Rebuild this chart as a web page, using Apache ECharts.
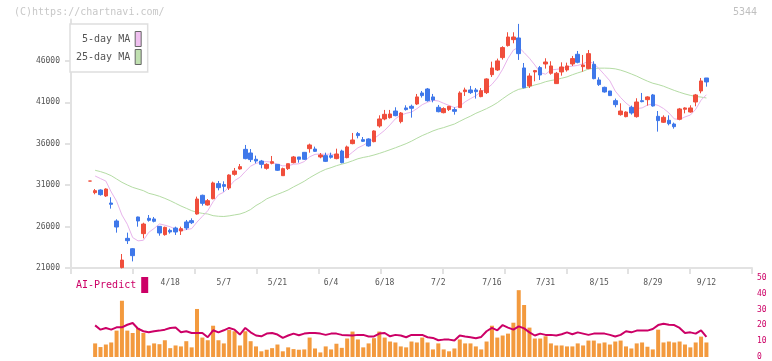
<!DOCTYPE html>
<html><head><meta charset="utf-8">
<script src="https://cdn.jsdelivr.net/npm/echarts@6/dist/echarts.min.js"></script>
<style>html,body{margin:0;padding:0;background:#fff}#c{width:772px;height:361px}</style>
</head><body><div id="c"></div>
<script>
// trading days (2025)
const dates = ['3/28','3/31','4/1','4/2','4/3','4/4','4/7','4/8','4/9','4/10','4/11','4/14','4/15','4/16','4/17','4/18','4/21','4/22','4/23','4/24','4/25','4/28','4/30','5/1','5/2','5/7','5/8','5/9','5/12','5/13','5/14','5/15','5/16','5/19','5/20','5/21','5/22','5/23','5/26','5/27','5/28','5/29','5/30','6/2','6/3','6/4','6/5','6/6','6/9','6/10','6/11','6/12','6/13','6/16','6/17','6/18','6/19','6/20','6/23','6/24','6/25','6/26','6/27','6/30','7/1','7/2','7/3','7/4','7/7','7/8','7/9','7/10','7/11','7/14','7/15','7/16','7/17','7/18','7/22','7/23','7/24','7/25','7/28','7/29','7/30','7/31','8/1','8/4','8/5','8/6','8/7','8/8','8/12','8/13','8/14','8/15','8/18','8/19','8/20','8/21','8/22','8/25','8/26','8/27','8/28','8/29','9/1','9/2','9/3','9/4','9/5','9/8','9/9','9/10','9/11','9/12'];
const dateTickLabels = ['4/18','5/7','5/21','6/4','6/18','7/2','7/16','7/31','8/15','8/29','9/12'];
// [open, high, low, close]
const ohlc = [
[31500,31500,31500,31500],[30100,30540,29900,30340],[30420,30500,29740,29860],[29700,30620,29580,30540],[28850,29540,28170,28690],
[26680,26880,25270,25950],[21050,22690,20950,21960],[24580,25270,23900,24300],[23330,23410,21800,22490],[27160,27200,25990,26680],
[25150,26470,24580,26310],[27000,27400,26600,26760],[26920,27160,26510,26640],[26030,26070,24900,25230],[25030,25990,24900,25910],
[25550,25750,25150,25350],[25830,25990,24990,25350],[25470,25990,24990,25750],[26560,26800,25590,25830],[26720,27000,26310,26470],
[27520,29620,27440,29330],[29780,29860,28530,28810],[28610,29330,28530,29130],[29370,31430,29290,31270],[31190,31510,30380,30700],
[31070,31470,30220,30860],[30660,32310,30420,32230],[32310,33080,32150,32720],[32960,33560,32880,33240],[35330,35860,34130,34210],
[34890,35370,33800,34090],[34130,34570,33640,33920],[33920,34050,33040,33520],[33040,33640,32880,33520],[33640,34530,33520,33840],
[33520,33560,32720,32800],[32150,33120,32110,33000],[33000,33600,32840,33600],[33720,34530,33640,34410],[34410,34410,33720,34130],
[34970,35010,34050,34130],[35410,36020,34930,35860],[35370,35660,35010,35090],[34410,34890,34250,34650],[34570,34930,33800,33880],
[34570,34930,34210,34370],[34210,35410,34130,34770],[35130,35290,33640,33720],[34330,35780,34250,35620],[36020,37310,35940,36460],
[37230,37430,36660,36990],[36500,36820,36220,36300],[36580,36660,35660,35740],[36260,37630,36180,37550],[38150,39440,37950,39000],
[39000,40090,38840,39560],[39160,40090,39040,39600],[39960,40410,39320,39400],[38680,39840,38470,39720],[40330,40650,40010,40130],
[40530,40730,39160,40290],[40810,42020,40690,41660],[42140,42380,41580,41820],[42620,42740,41090,41210],[41660,42020,41010,41290],
[40410,40690,39800,39880],[39760,40410,39680,40250],[40130,40570,39960,40530],[40130,40410,39520,39920],[40370,42340,40330,42140],
[42300,42780,41780,42500],[42500,42990,42020,42180],[42500,42740,41460,42300],[41700,42740,41620,42420],[42180,43910,42020,43830],
[44350,45920,44070,45160],[44920,46290,44800,46010],[46410,47780,46170,47620],[47860,49470,47740,48900],[48580,49470,48140,48900],
[48780,50480,46130,46890],[45160,45760,42700,42780],[42990,44520,42740,44190],[44680,44920,43550,44840],[45200,45400,43710,44310],
[45640,46330,45080,45880],[44520,45970,44350,45400],[43270,44680,43230,44520],[44680,45840,44230,45280],[44920,45800,44720,45400],
[45640,46610,45400,46290],[46810,47210,45720,45840],[45320,46730,44720,45520],[45080,47330,45000,46890],[45600,45970,43790,43870],
[43710,44030,42990,43150],[42820,42900,42180,42260],[42380,42380,41780,41820],[41210,41460,40410,40730],[39520,40890,39400,39960],
[39280,39920,39200,39840],[40410,40610,39520,39720],[39280,41500,39160,41050],[41210,42140,41010,41090],[41330,41740,40610,41660],
[41900,42020,40490,40570],[39320,39960,37470,38800],[38600,39440,38520,39200],[38840,39440,38230,38430],[38390,38560,37830,38070],
[38960,40330,38840,40210],[40170,40410,39680,40330],[39840,40650,39760,40330],[41050,42020,40530,41900],[42380,43950,42100,43590],
[43950,43950,42900,43470]
];
const volume = ['-',
8.6,6.3,7.9,9.2,16.7,35.6,16.7,15.2,18.4,15.2,
7.3,8.6,8.1,10.6,5.6,7.3,6.7,10,6.1,30.4,
12.3,10.6,19.8,10.6,8.6,17.1,16.3,7.3,16.3,10,
6.7,3.6,4.6,5.6,7.9,3.6,6.1,5,4.6,4.8,
12.3,5.4,2.9,6.7,4.8,8.4,5.8,11.7,
16.1,11.1,6.1,8.6,11.9,16.1,12.3,9.8,9.2,6.7,
6.1,9.8,9.2,12.3,9.2,4.8,8.6,4.8,3.6,5.4,
11.1,8.6,8.6,6.7,4.8,9.8,19.8,12.3,13.6,14.8,
21.7,42.3,32.9,18.6,11.7,11.7,13.1,8.6,7.3,7.3,
6.7,6.7,8.6,7.3,10.4,10.4,8.6,9.2,7.9,9.8,
10.4,6.7,5.4,8.6,9.2,6.5,4.8,17.3,9.2,9.8,
9.2,9.8,7.9,6.1,9.2,12.9,9.2];
const aiPredict = ['-',
20,17.3,18.4,17.3,18.8,18.8,20.4,21.5,17.9,16.3,
15.6,16.3,16.7,17.3,18.4,18.6,15.6,16.3,15.2,15.2,
15.2,12.5,16.9,15.6,16.9,18.4,17.3,14.2,18.4,15.6,
13.6,13.1,14.8,15.2,14.2,12.1,13.6,14.8,13.8,14.8,
15.2,15.2,14.8,14,14.8,14.8,14,13.8,
13.6,14,14,13,13,14.8,15.2,13.1,14,13.6,
12.5,14,14,14,12.5,12.1,10.6,11,11,10.4,
13.6,13,12.5,11.9,12.7,16.3,18.4,16.9,20.2,18.6,
17.3,19.4,18.1,15.6,13.6,14.8,14,14,13.6,14.4,
15.6,14.4,15.6,14.8,14,14.8,14.8,14.8,14,13,
14,16.3,15.6,16.7,16.7,16.7,17.7,20.2,21,20.4,
20.2,18.4,15.2,15.6,14.8,16.9,12.7];
// MA values before a full window exists
const ma5Early = ['-', 32110, 31800, 31500];
const ma25Early = ['-',32800,32640,32430,32150,31750,31350,31030,30740,30540,30340,30020,29860,29660,29410,29130,28810,28490,28210,27920,27720,27600,27520,27320];

const PAD_L = 3, PAD_R = 8;
const pad = (arr, empty) => Array(PAD_L).fill(empty).concat(arr, Array(PAD_R).fill(empty));
const cats = Array(PAD_L).fill(0).map((_, i) => ' '.repeat(i + 1)).concat(dates, Array(PAD_R).fill(0).map((_, i) => ' '.repeat(PAD_L + i + 1)));
const closes = ohlc.map(r => r[3]);
function ma(n, early) {
  return closes.map((c, i) => {
    if (i < n - 1) return early[i] === undefined ? '-' : early[i];
    let s = 0; for (let k = i - n + 1; k <= i; k++) s += closes[k];
    return Math.round(s / n);
  });
}
const ma5 = ma(5, ma5Early), ma25 = ma(25, ma25Early);
const candleData = pad(ohlc.map(r => [r[0], r[3], r[2], r[1]]), ['-', '-', '-', '-']);
const tickSet = new Set(dateTickLabels);

const RED = '#f04e3c', BLUE = '#3f78ea';
const MONO = 'DejaVu Sans Mono';
const chart = echarts.init(document.getElementById('c'), null, {renderer: 'canvas'});
chart.setOption({
  animation: false,
  backgroundColor: '#fff',
  title: [
    {text: '(C)https://chartnavi.com/', left: 14, top: 7, padding: 0, textStyle: {color: '#c8c8c8', fontSize: 10, fontWeight: 'normal', fontFamily: MONO}},
    {text: '5344', right: 15, top: 7, padding: 0, textStyle: {color: '#c0c0c0', fontSize: 10, fontWeight: 'normal', fontFamily: MONO}}
  ],
  legend: [
    {left: 70, top: 24, orient: 'vertical', align: 'right', selectedMode: false,
     itemWidth: 6, itemHeight: 15, itemGap: 2, padding: [7, 6, 7, 6],
     borderColor: '#dedede', borderWidth: 1.5, backgroundColor: '#fff',
     textStyle: {fontFamily: MONO, fontSize: 10, color: '#555'},
     data: [
       {name: '5-day MA', icon: 'rect', itemStyle: {color: '#f0c0f0', borderColor: '#666', borderWidth: 1}},
       {name: '25-day MA', icon: 'rect', itemStyle: {color: '#c0e0b0', borderColor: '#666', borderWidth: 1}}
     ]},
    {left: 76, top: 277, orient: 'horizontal', align: 'right', selectedMode: false,
     itemWidth: 7, itemHeight: 16, padding: 0,
     textStyle: {fontFamily: MONO, fontSize: 10, color: '#cc0066'},
     data: [{name: 'AI-Predict', icon: 'rect', itemStyle: {color: '#cc0066', borderWidth: 0}}]}
  ],
  grid: [
    {left: 71, right: 20, top: 19.6, bottom: 93},
    {left: 71, right: 20, top: 278, bottom: 3}
  ],
  xAxis: [
    {type: 'category', gridIndex: 0, data: cats, boundaryGap: true,
     axisLine: {lineStyle: {color: '#e2e2e2', width: 2}},
     axisTick: {show: false},
     axisLabel: {interval: (i, v) => tickSet.has(v), margin: 11, color: '#555', fontSize: 8, fontFamily: MONO}},
    {type: 'value', gridIndex: 0, min: 0, max: 11, interval: 1, position: 'bottom',
     axisLine: {show: false}, splitLine: {show: false}, axisLabel: {show: false},
     axisTick: {show: true, length: 6, lineStyle: {color: '#e2e2e2', width: 2}}},
    {type: 'category', gridIndex: 1, data: cats, boundaryGap: true,
     axisLine: {show: false}, axisTick: {show: false}, axisLabel: {show: false}}
  ],
  yAxis: [
    {type: 'value', gridIndex: 0, min: 21000, max: 51000, interval: 5000,
     axisLine: {show: true, lineStyle: {color: '#e2e2e2', width: 2}},
     axisTick: {show: true, length: 6, lineStyle: {color: '#e2e2e2', width: 2}},
     splitLine: {show: false},
     axisLabel: {showMaxLabel: false, margin: 11, color: '#555', fontSize: 8, fontFamily: MONO, formatter: v => String(v)}},
    {type: 'value', gridIndex: 1, min: 0, max: 50, interval: 10, position: 'right',
     axisLine: {show: false}, axisTick: {show: false}, splitLine: {show: false},
     axisLabel: {margin: 5, color: '#cc0066', fontSize: 8, fontFamily: MONO}}
  ],
  series: [
    {name: '25-day MA', type: 'line', xAxisIndex: 0, yAxisIndex: 0, data: pad(ma25, '-'), showSymbol: false, symbol: 'none',
     lineStyle: {color: '#b4dca4', width: 1}, itemStyle: {color: '#c0e0b0'}, z: 2},
    {name: '5-day MA', type: 'line', xAxisIndex: 0, yAxisIndex: 0, data: pad(ma5, '-'), showSymbol: false, symbol: 'none',
     lineStyle: {color: '#e8b4ec', width: 1}, itemStyle: {color: '#f0c0f0'}, z: 2},
    {name: 'price', type: 'candlestick', xAxisIndex: 0, yAxisIndex: 0, data: candleData, barWidth: 4,
     itemStyle: {color: RED, color0: BLUE, borderColor: RED, borderColor0: BLUE, borderColorDoji: RED, borderWidth: 1}, z: 3},
    {name: 'Volume', type: 'bar', xAxisIndex: 2, yAxisIndex: 1, data: pad(volume, '-'), barWidth: 4,
     itemStyle: {color: '#f39a3e'}, z: 2},
    {name: 'AI-Predict', type: 'line', xAxisIndex: 2, yAxisIndex: 1, data: pad(aiPredict, '-'), showSymbol: false, symbol: 'none',
     lineStyle: {color: '#cc0066', width: 2}, itemStyle: {color: '#cc0066'}, z: 3}
  ]
});
</script></body></html>
